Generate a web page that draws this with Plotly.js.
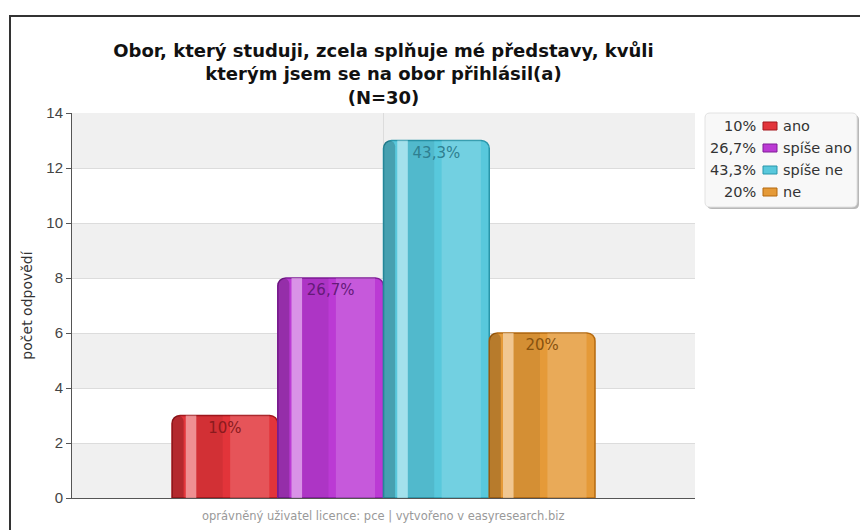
<!DOCTYPE html>
<html>
<head>
<meta charset="utf-8">
<script src="https://cdn.plot.ly/plotly-3.0.1.min.js"></script>
<style>
  html, body { margin: 0; padding: 0; background: #ffffff; overflow: hidden; }
  #wrap { position: relative; width: 860px; height: 530px; }
  #frame { position: absolute; left: 9px; top: 15px; width: 900px; height: 600px; border: 2px solid #333; box-sizing: border-box; }
  #chart { position: absolute; left: 0; top: 0; width: 860px; height: 530px; }
</style>
</head>
<body>
<div id="wrap">
  <div id="frame"></div>
  <div id="chart"></div>
</div>
<script>
// ---- data ----
const categories = ['ano', 'spíše ano', 'spíše ne', 'ne'];
const counts = [3, 8, 13, 6];
const percentLabels = ['10%', '26,7%', '43,3%', '20%'];
const yTickValues = [0, 2, 4, 6, 8, 10, 12, 14];
const titleLines = ['Obor, který studuji, zcela splňuje mé představy, kvůli', 'kterým jsem se na obor přihlásil(a)', '(N=30)'];
const yAxisTitle = 'počet odpovědí';
const footerText = 'oprávněný uživatel licence: pce | vytvořeno v easyresearch.biz';

// ---- styles ----
const baseColors = ['#e2343a', '#bb3ad4', '#58c8dc', '#e59a38'];
const edgeColors = ['#a3171c', '#801d98', '#2896aa', '#b4690f'];
const textColors = ['#8a1a1d', '#641a78', '#2f7f90', '#87520f'];
const FONT = '"DejaVu Sans", sans-serif';
const TICKFONT = '"Liberation Sans", Arial, sans-serif';

const xs = categories.map((c, i) => i);

const traces = [];
// base bars
traces.push({
  type: 'bar', x: xs, y: counts, width: 1, offset: -0.5,
  marker: { color: baseColors, line: { color: edgeColors, width: 1.5 }, cornerradius: 8 },
  showlegend: false, hoverinfo: 'skip'
});
// gloss overlays (style only)
const overlays = [
  { offset: -0.5, width: 0.11, color: 'rgba(0,0,0,0.2)', r: 8 },
  { offset: -0.37, width: 0.1, color: 'rgba(255,255,255,0.45)', r: 0 },
  { offset: -0.27, width: 0.25, color: 'rgba(0,0,0,0.07)', r: 0 },
  { offset: 0.05, width: 0.37, color: 'rgba(255,255,255,0.16)', r: 0 }
];
overlays.forEach(o => {
  traces.push({
    type: 'bar', x: xs, y: counts, width: o.width, offset: o.offset,
    marker: { color: o.color, line: { width: 0 }, cornerradius: o.r },
    showlegend: false, hoverinfo: 'skip'
  });
});
// labels
traces.push({
  type: 'bar', x: xs, y: counts, width: 1, offset: -0.5,
  marker: { color: 'rgba(0,0,0,0)', line: { width: 0 } },
  text: percentLabels, textposition: 'inside', insidetextanchor: 'end',
  textfont: { family: FONT, size: 15, color: textColors },
  textangle: 0, constraintext: 'none',
  showlegend: false, hoverinfo: 'skip'
});

// plot geometry (pixels)
const L = 72, R = 165, T = 113, B = 32, W = 860, H = 530;
const pw = W - L - R, ph = H - T - B;
const px = v => (v - L) / pw;
const py = v => (H - B - v) / ph;

const shapes = [];
// alternating background bands
for (let i = 0; i < yTickValues.length - 1; i++) {
  if (i % 2 === 0) {
    shapes.push({ type: 'rect', layer: 'below', xref: 'paper', yref: 'y', x0: 0, x1: 1,
      y0: yTickValues[i], y1: yTickValues[i + 1], fillcolor: '#f0f0f0', line: { width: 0 } });
  }
}

// custom legend box
const bx0 = px(705), bx1 = px(857), by0 = py(207), by1 = py(113);
const rx = 5 / pw, ry = 5 / ph;
function roundRect(x0, y0, x1, y1) {
  return `M${x0 + rx},${y0} L${x1 - rx},${y0} Q${x1},${y0} ${x1},${y0 + ry} L${x1},${y1 - ry} Q${x1},${y1} ${x1 - rx},${y1} L${x0 + rx},${y1} Q${x0},${y1} ${x0},${y1 - ry} L${x0},${y0 + ry} Q${x0},${y0} ${x0 + rx},${y0} Z`;
}
const sdx = 2 / pw, sdy = 2 / ph;
shapes.push({ type: 'path', xref: 'paper', yref: 'paper', path: roundRect(bx0 + sdx, by0 - sdy, bx1 + sdx, by1 - sdy),
  fillcolor: '#9a9a9a', line: { width: 0 }, opacity: 0.7 });
shapes.push({ type: 'path', xref: 'paper', yref: 'paper', path: roundRect(bx0, by0, bx1, by1),
  fillcolor: '#f8f8f8', line: { color: '#e2e2e2', width: 1 } });

const annotations = [];
const rowY = [126, 148, 170, 192];
categories.forEach((c, i) => {
  const yy = py(rowY[i]);
  annotations.push({ xref: 'paper', yref: 'paper', x: px(758), y: yy, xanchor: 'right', yanchor: 'middle',
    text: percentLabels[i], showarrow: false, font: { family: FONT, size: 14.5, color: '#333' } });
  shapes.push({ type: 'rect', xref: 'paper', yref: 'paper', x0: px(763), x1: px(777), y0: yy - 4 / ph, y1: yy + 4 / ph,
    fillcolor: baseColors[i], line: { color: edgeColors[i], width: 1 } });
  annotations.push({ xref: 'paper', yref: 'paper', x: px(781), y: yy, xanchor: 'left', yanchor: 'middle',
    text: c, showarrow: false, font: { family: FONT, size: 14.5, color: '#333' } });
});
// footer
annotations.push({ xref: 'paper', yref: 'paper', x: 0.5, y: py(516), xanchor: 'center', yanchor: 'middle',
  text: footerText, showarrow: false, font: { family: FONT, size: 11.5, color: '#999' } });

const layout = {
  width: W, height: H,
  margin: { l: L, r: R, t: T, b: B, pad: 0 },
  paper_bgcolor: 'rgba(0,0,0,0)', plot_bgcolor: '#ffffff',
  barmode: 'overlay',
  font: { family: FONT, color: '#333' },
  title: {
    text: titleLines.map(s => '<b>' + s + '</b>').join('<br>'),
    font: { family: FONT, size: 18, color: '#111' },
    x: 0.5, xref: 'paper', xanchor: 'center', y: 1 - 57 / H, yref: 'container', yanchor: 'top'
  },
  xaxis: {
    range: [-0.5 - 100 / 105.75, 3.5 + 100 / 105.75],
    tickvals: [1.5], showticklabels: false, ticks: '',
    showgrid: true, gridcolor: '#dcdcdc', gridwidth: 1,
    zeroline: false, showline: true, linecolor: '#555', linewidth: 1, mirror: false, fixedrange: true
  },
  yaxis: {
    range: [0, 14], tickvals: yTickValues, ticktext: yTickValues.map(String),
    ticks: 'outside', ticklen: 5, tickcolor: '#555', tickfont: { family: TICKFONT, size: 15, color: '#444' },
    showgrid: true, gridcolor: '#dcdcdc', gridwidth: 1, zeroline: false,
    showline: true, linecolor: '#555', linewidth: 1,
    title: { text: yAxisTitle, font: { family: FONT, size: 14, color: '#333' }, standoff: 10 },
    fixedrange: true
  },
  shapes: shapes,
  annotations: annotations,
  showlegend: false
};

Plotly.newPlot('chart', traces, layout, { displayModeBar: false, staticPlot: true });
</script>
</body>
</html>
